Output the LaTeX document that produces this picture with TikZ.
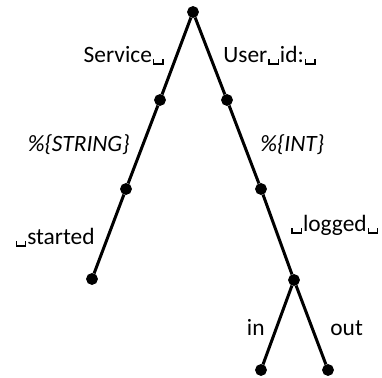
\documentclass[tikz,border=0pt]{standalone}
\usepackage{fontspec}
\setmainfont{Carlito}
\usepackage{tikz}
\usetikzlibrary{positioning}
\newcommand{\vsp}{\kern0.04em\raisebox{-0.07em}{\rule{0.06em}{0.24em}\rule{0.34em}{0.06em}\rule{0.06em}{0.24em}}\kern0.04em}
\tikzset{
    dot/.style={
        draw,
        circle,
        fill=black,
        minimum size=5.5pt,
        inner sep=0pt
    },
    lbl/.style={
        inner sep=0pt,
        font=\fontsize{11.7}{14}\selectfont
    },
    branch/.style={
        line width=1.5pt
    }
}

\begin{document}
\begin{tikzpicture}[x=0.5pt, y=-0.5pt]
  \useasboundingbox (0,0) rectangle (382,378);

  % Dots
  \node[dot] (r)  at (193,12)  {};
  \node[dot] (a1) at (160,100) {};
  \node[dot] (a2) at (126,189) {};
  \node[dot] (a3) at (92,279)  {};
  \node[dot] (b1) at (227,100) {};
  \node[dot] (b2) at (261,189) {};
  \node[dot] (b3) at (294,280) {};
  \node[dot] (c1) at (261,370) {};
  \node[dot] (c2) at (328,370) {};

  % Branches
  \draw[branch] (r) -- (a1) -- (a2) -- (a3);
  \draw[branch] (r) -- (b1) -- (b2) -- (b3);
  \draw[branch] (b3) -- (c1);
  \draw[branch] (b3) -- (c2);

  % Labels
  \node[lbl, anchor=base east] (lService) at (165,63)  {Service\vsp};
  \node[lbl, anchor=base west] (lUser)    at (223,63)  {User\vsp id:\vsp};
  \node[lbl, anchor=base east] (lString)  at (130,152) {\itshape \%\{STRING\}};
  \node[lbl, anchor=base west] (lInt)     at (260,152) {\itshape \%\{INT\}};
  \node[lbl, anchor=base east] (lStarted) at (95,245)  {\vsp started};
  \node[lbl, anchor=base west] (lLogged)  at (290,232) {\vsp logged\vsp};
  \node[lbl, anchor=base east] (lIn)      at (265,336) {in};
  \node[lbl, anchor=base west] (lOut)     at (330,336) {out};
\end{tikzpicture}
\end{document}
